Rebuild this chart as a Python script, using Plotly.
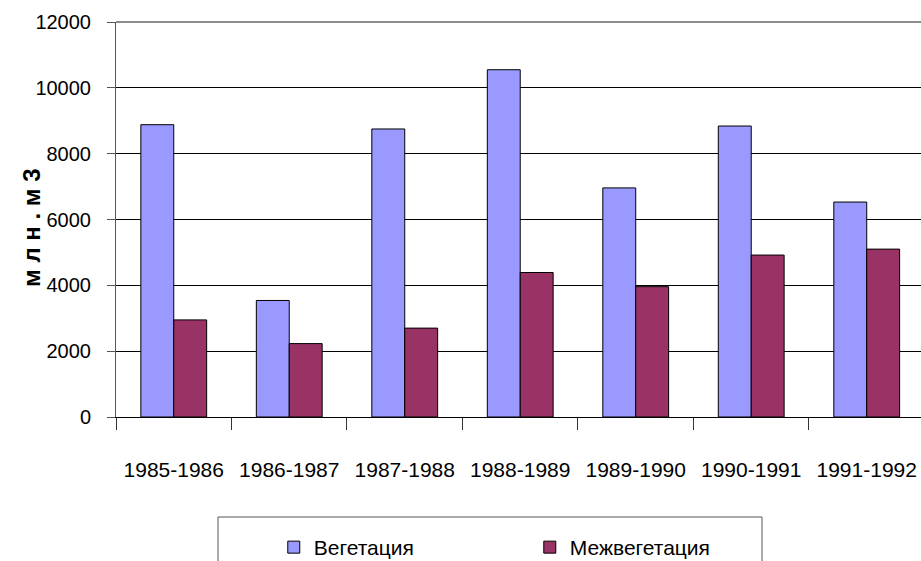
import plotly.graph_objects as go

categories = ["1985-1986", "1986-1987", "1987-1988", "1988-1989", "1989-1990", "1990-1991", "1991-1992"]
vegetation = [8880, 3540, 8750, 10550, 6960, 8840, 6530]
inter_vegetation = [2950, 2230, 2700, 4390, 3960, 4920, 5100]
series_names = ["Вегетация", "Межвегетация"]
y_title = "\u00a0".join(["м", "л", "н", ".", "м", "3"])

FONT = "Liberation Sans Narrow, Arial Narrow, Liberation Sans, Arial, sans-serif"

fig = go.Figure()
fig.add_trace(go.Bar(x=categories, y=vegetation, name=series_names[0],
                     marker=dict(color="#9999FF", line=dict(color="#000000", width=1))))
fig.add_trace(go.Bar(x=categories, y=inter_vegetation, name=series_names[1],
                     marker=dict(color="#993366", line=dict(color="#000000", width=1))))

fig.update_layout(
    width=921, height=561,
    margin=dict(l=116, r=0, t=22, b=144, autoexpand=False),
    paper_bgcolor="white", plot_bgcolor="white",
    barmode="group", bargap=0.43, bargroupgap=0,
    font=dict(family=FONT, size=21, color="black"),
    showlegend=True,
    legend=dict(orientation="h", x=0.196, y=-(527 - 417) / 395, xanchor="left", yanchor="top",
                font=dict(family=FONT, size=21, color="black"),
                bgcolor="rgba(0,0,0,0)", entrywidth=211, entrywidthmode="pixels",
                itemwidth=30, tracegroupgap=0),
    shapes=[
        dict(type="rect", xref="paper", yref="paper",
             x0=(218 - 116) / 805, x1=(762 - 116) / 805, y0=-0.56, y1=-(517 - 417) / 395,
             line=dict(color="#555555", width=1), fillcolor="rgba(0,0,0,0)", layer="below"),
        dict(type="line", xref="paper", yref="paper", x0=0, x1=1, y0=1, y1=1,
             line=dict(color="#8c8c8c", width=2), layer="above"),
    ],
    annotations=[dict(text=f"<b>{y_title}</b>", xref="paper", yref="paper",
                      x=-(116 - 31) / 805, y=(417 - 228) / 395, xanchor="center", yanchor="middle",
                      textangle=-90, showarrow=False,
                      font=dict(family="Liberation Sans, Arial, sans-serif", size=24, color="black"))],
)

fig.update_xaxes(
    range=[-0.5, 6.47], showgrid=False, automargin=False, tickangle=0,
    showline=True, linecolor="#000000", linewidth=1,
    ticks="outside", tickson="boundaries", ticklen=12, tickcolor="#333333", tickwidth=1,
    ticklabelstandoff=34,
    tickfont=dict(family=FONT, size=21, color="black"),
)
fig.update_yaxes(
    range=[0, 12000], dtick=2000, tickformat="d", showgrid=True, gridcolor="#000000", gridwidth=1,
    automargin=False,
    showline=True, linecolor="#555555", linewidth=1,
    ticks="outside", ticklen=8, tickcolor="#555555",
    ticklabelstandoff=12,
    tickfont=dict(family=FONT, size=20, color="black"),
    zeroline=False,
)

fig.write_html("out.html", config={"displayModeBar": False},
               post_script="document.body.style.margin='0';document.body.style.overflow='hidden';")
